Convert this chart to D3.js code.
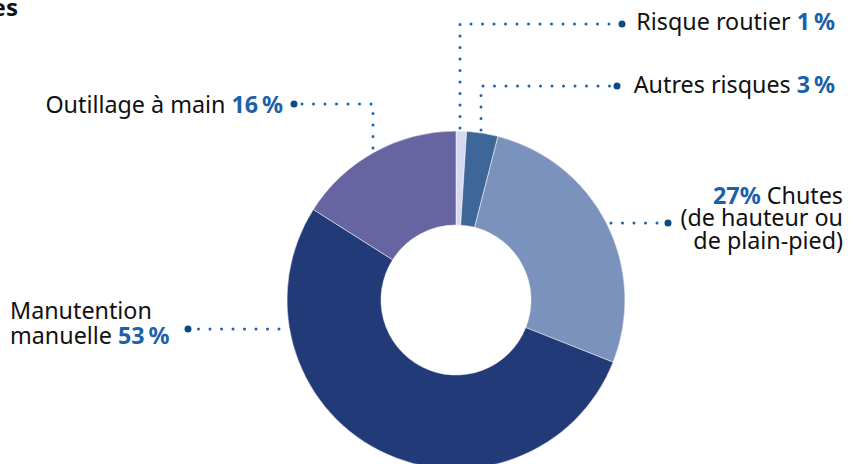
<!DOCTYPE html>
<html>
<head>
<meta charset="utf-8">
<script src="https://cdn.jsdelivr.net/npm/d3@7"></script>
<style>
  body { margin: 0; background: #fff; }
  text { font-family: "Noto Sans", sans-serif; }
</style>
</head>
<body>
<div id="chart"></div>
<script>
const categories = ["Risque routier", "Autres risques", "Chutes", "Manutention manuelle", "Outillage à main"];
const values = [1, 3, 27, 53, 16];
const colors = ["#d6d9ef", "#3e6699", "#7b92bd", "#233a79", "#6764a2"];
const pctLabels = ["1\u202f%", "3\u202f%", "27%", "53\u202f%", "16\u202f%"];

const width = 849, height = 464;
const cx = 456, cy = 300, outerR = 169, innerR = 75;

const svg = d3.select("#chart")
  .append("svg")
  .attr("width", width)
  .attr("height", height);

// title, cut off at the left edge in the source
svg.append("text")
  .attr("x", 18).attr("y", 16)
  .attr("text-anchor", "end")
  .attr("font-size", 24)
  .attr("font-weight", 700)
  .attr("fill", "#111")
  .text("es");

const pie = d3.pie().sort(null).value(d => d)(values);
const arc = d3.arc().innerRadius(innerR).outerRadius(outerR);

const g = svg.append("g").attr("transform", `translate(${cx},${cy})`);
g.selectAll("path")
  .data(pie)
  .enter().append("path")
  .attr("d", arc)
  .attr("fill", (d, i) => colors[i])
  .attr("stroke", "#fff")
  .attr("stroke-width", 0.5);

// leader lines: point list ending at the big dot near the label
const leaders = [
  [[460, 128], [460, 24], [622, 24]],
  [[481, 130], [481, 86], [617, 86]],
  [[611, 223], [668, 223]],
  [[279, 329], [188, 329]],
  [[373, 148], [373, 104], [294, 104]]
];

leaders.forEach(pts => {
  svg.append("path")
    .attr("d", d3.line()(pts))
    .attr("fill", "none")
    .attr("stroke", "#1c64b0")
    .attr("stroke-width", 3)
    .attr("stroke-linecap", "round")
    .attr("stroke-dasharray", "0 11.5");
  const end = pts[pts.length - 1];
  svg.append("circle")
    .attr("cx", end[0]).attr("cy", end[1])
    .attr("r", 3.5)
    .attr("fill", "#0f4a85");
});

const fs = 23.3;
const blue = "#1b60ab";

function label(x, y, anchor, parts) {
  const t = svg.append("text")
    .attr("x", x).attr("y", y)
    .attr("text-anchor", anchor)
    .attr("font-size", fs)
    .attr("fill", "#111");
  parts.forEach(p => {
    t.append("tspan")
      .attr("font-weight", p.bold ? 700 : 400)
      .attr("fill", p.bold ? blue : "#111")
      .text(p.t);
  });
}

label(835, 30, "end", [{ t: categories[0] + " " }, { t: pctLabels[0], bold: true }]);
label(835, 93, "end", [{ t: categories[1] + "  " }, { t: pctLabels[1], bold: true }]);
label(843, 204, "end", [{ t: pctLabels[2], bold: true }, { t: "  " + categories[2] }]);
label(843, 226, "end", [{ t: "(de hauteur ou" }]);
label(843, 249, "end", [{ t: "de plain-pied)" }]);
label(10, 319, "start", [{ t: "Manutention" }]);
label(10, 344, "start", [{ t: "manuelle " }, { t: pctLabels[3], bold: true }]);
label(283, 113, "end", [{ t: categories[4] + " " }, { t: pctLabels[4], bold: true }]);
</script>
</body>
</html>
